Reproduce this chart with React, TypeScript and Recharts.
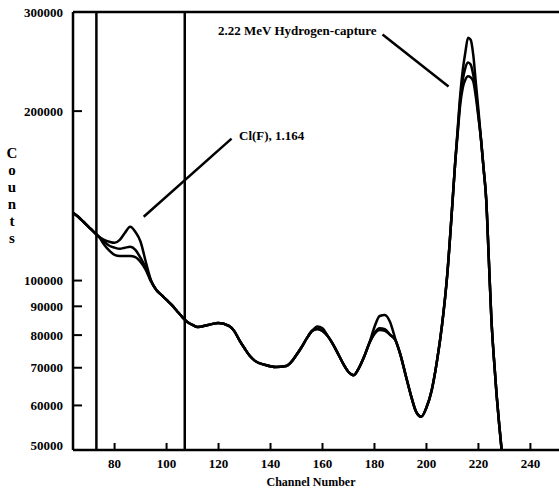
import React from 'react';
import { LineChart, Line, XAxis, YAxis, ReferenceLine } from 'recharts';

// channel numbers
const channels = [
  64, 66, 68, 70, 72, 74, 76, 78, 80, 82, 84, 86, 88, 90, 92, 94, 96, 98, 100, 102, 104, 106, 108, 110, 112,
  116, 120, 124, 126, 128, 130, 132, 134, 138, 142, 146, 148, 150, 152, 154, 156, 158, 160, 162, 164, 166,
  168, 170, 172, 174, 176, 178, 180, 182, 184, 186, 188, 190, 192, 194, 196, 198, 200, 202, 204, 206, 208,
  210, 211, 212, 213, 214, 215, 216, 217, 218, 219, 220, 221, 222, 223, 224, 225, 226, 227, 228, 229, 230,
];

// three overlaid spectra (counts)
const spectrumA = [
  132000, 129800, 127200, 124600, 122000, 119600, 118100, 117200, 116700, 118100, 121600, 124600, 122000, 117200, 108000, 100200, 96300, 94300, 92400, 90500, 88300, 86200, 84400, 83400, 82700,
  83400, 84100, 83100, 81400, 78400, 75800, 73500, 72000, 70800, 70200, 70500, 71700, 73800, 76200, 79000, 81400, 82900, 82300, 79700, 77100, 74100,
  71100, 68800, 67900, 69900, 73200, 77400, 82700, 86500, 86900, 84400, 78800, 73800, 67900, 62600, 58500, 57300, 59500, 63800, 71700, 83400, 102400,
  137400, 160700, 185500, 213800, 237100, 255000, 270000, 267800, 252000, 224800, 201000, 177900, 157900, 139200, 109000, 85200, 72300, 62600, 55400, 49600, 45000,
];
const spectrumB = [
  132000, 129800, 127200, 124600, 122000, 119600, 117200, 115300, 114400, 113900, 114400, 114800, 113400, 109700, 105400, 99900, 96300, 94300, 92400, 90500, 88300, 86200, 84400, 83400, 82700,
  83400, 84100, 83100, 81400, 78400, 75800, 73500, 72000, 70800, 70200, 70500, 71700, 73800, 76200, 79000, 81400, 82000, 81400, 79700, 77100, 74100,
  71100, 68800, 67900, 69900, 73200, 77400, 80700, 82300, 82000, 80100, 78400, 73800, 67900, 62600, 58500, 57300, 59500, 63800, 71700, 83400, 102400,
  137400, 160700, 184000, 209700, 227700, 239000, 244000, 242000, 232000, 216500, 197000, 177900, 157900, 139200, 109000, 85200, 72300, 62600, 55400, 49600, 45000,
];
const spectrumC = [
  132000, 129800, 127200, 124600, 122000, 119600, 115800, 113000, 111100, 110600, 110600, 110600, 110100, 107900, 104500, 99600, 96300, 94300, 92400, 90500, 88300, 86200, 84400, 83400, 82700,
  83400, 84100, 83100, 81400, 78400, 75800, 73500, 72000, 70800, 70200, 70500, 71700, 73800, 76200, 79000, 81400, 82000, 81400, 79700, 77100, 74100,
  71100, 68800, 67900, 69900, 73200, 77400, 80400, 81700, 81400, 80100, 78400, 73800, 67900, 62600, 58500, 57300, 59500, 63800, 71700, 83400, 102400,
  137400, 160700, 182000, 205400, 220400, 227700, 230600, 229600, 226000, 212000, 194800, 177900, 157900, 139200, 109000, 85200, 72300, 62600, 55400, 49600, 45000,
];

const xTicks = [80, 100, 120, 140, 160, 180, 200, 220, 240];
const yTicks = [50000, 60000, 70000, 80000, 90000, 100000, 200000, 300000];
const windowLines = [73, 107];

const data = channels.map((ch, i) => ({ ch, a: spectrumA[i], b: spectrumB[i], c: spectrumC[i] }));

const font = '"Liberation Serif", "Times New Roman", serif';

const YTick = ({ x, y, payload }: any) => (
  <g>
    <line x1={x} x2={x + 9} y1={y} y2={y} stroke="#000" strokeWidth={2} />
    <text
      x={x - 10}
      y={payload.value === 50000 ? y - 5 : y}
      textAnchor="end"
      dominantBaseline="central"
      fontFamily={font}
      fontWeight="bold"
      fontSize={13}
      fill="#000"
    >
      {payload.value}
    </text>
  </g>
);

const XTick = ({ x, y, payload }: any) => (
  <g>
    <line x1={x} x2={x} y1={y} y2={y - 7} stroke="#000" strokeWidth={2} />
    <text x={x} y={y + 13} textAnchor="middle" dominantBaseline="central" fontFamily={font} fontWeight="bold" fontSize={13} fill="#000">
      {payload.value}
    </text>
  </g>
);

const labelStyle: React.CSSProperties = {
  position: 'absolute',
  fontFamily: font,
  fontWeight: 'bold',
  fontSize: 13,
  lineHeight: '16px',
  whiteSpace: 'nowrap',
  color: '#000',
};

export default function App() {
  return (
    <div style={{ position: 'absolute', left: 0, top: 0, width: 559, height: 491, background: '#fff' }}>
      <LineChart width={559} height={491} data={data} margin={{ top: 12, right: 0, bottom: 11, left: 0 }}>
        <XAxis
          dataKey="ch"
          type="number"
          domain={[64, 251]}
          ticks={xTicks}
          allowDataOverflow
          height={30}
          tickSize={0}
          tickMargin={0}
          tick={<XTick />}
          axisLine={{ stroke: '#000', strokeWidth: 2.5 }}
        />
        <YAxis
          scale="log"
          domain={[50000, 300000]}
          ticks={yTicks}
          allowDataOverflow
          width={73}
          tickSize={0}
          tickMargin={0}
          tick={<YTick />}
          axisLine={{ stroke: '#000', strokeWidth: 2.5 }}
        />
        <ReferenceLine y={300000} stroke="#000" strokeWidth={2.5} />
        {windowLines.map((c) => (
          <ReferenceLine key={c} x={c} stroke="#000" strokeWidth={2.5} />
        ))}
        <ReferenceLine segment={[{ x: 183.1, y: 273600 }, { x: 208.5, y: 221100 }]} stroke="#000" strokeWidth={2.5} />
        <ReferenceLine segment={[{ x: 91.2, y: 129800 }, { x: 125, y: 178700 }]} stroke="#000" strokeWidth={2.5} />
        <Line type="monotone" dataKey="c" stroke="#000" strokeWidth={2.5} dot={false} isAnimationActive={false} />
        <Line type="monotone" dataKey="b" stroke="#000" strokeWidth={2.5} dot={false} isAnimationActive={false} />
        <Line type="monotone" dataKey="a" stroke="#000" strokeWidth={2.5} dot={false} isAnimationActive={false} />
      </LineChart>
      <div style={{ ...labelStyle, left: 218, top: 23 }}>2.22 MeV Hydrogen-capture</div>
      <div style={{ ...labelStyle, left: 239, top: 128 }}>Cl(F), 1.164</div>
      <div style={{ ...labelStyle, left: 311, top: 474, transform: 'translateX(-50%)', fontSize: 12 }}>Channel Number</div>
      <div
        style={{
          ...labelStyle,
          left: 4,
          top: 145,
          width: 16,
          fontSize: 15,
          textAlign: 'center',
          lineHeight: '17px',
          whiteSpace: 'normal',
        }}
      >
        {'Counts'.split('').map((ch, i) => (
          <div key={i}>{ch}</div>
        ))}
      </div>
    </div>
  );
}
